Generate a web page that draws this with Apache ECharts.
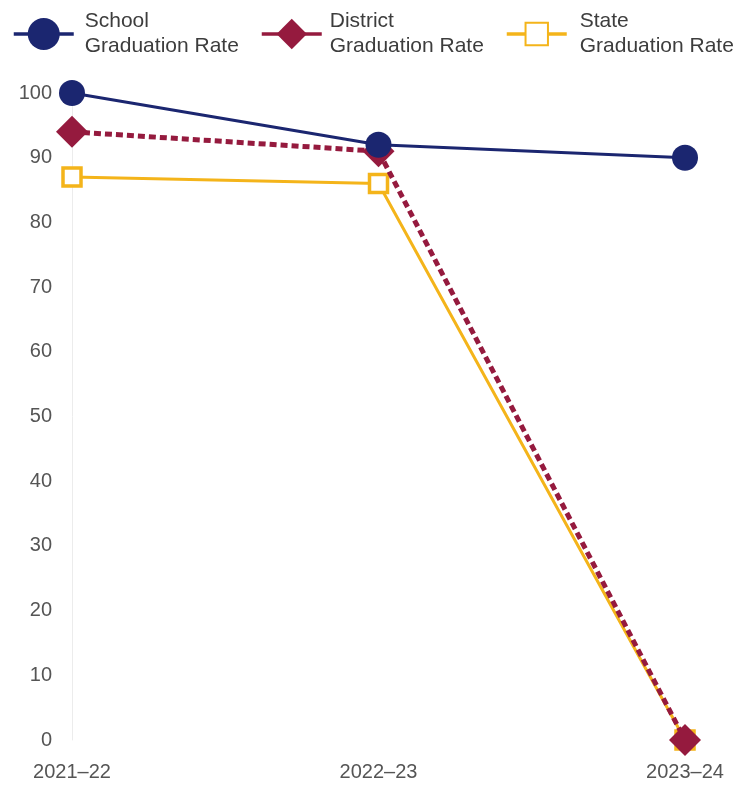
<!DOCTYPE html>
<html>
<head>
<meta charset="utf-8">
<script src="https://cdn.jsdelivr.net/npm/echarts@6/dist/echarts.min.js"></script>
<style>
  html, body { margin: 0; padding: 0; background: #ffffff; }
  #chart { width: 735px; height: 785px; }
</style>
</head>
<body>
<div id="chart"></div>
<script>
// School years on the horizontal axis
const years = ['2021\u201322', '2022\u201323', '2023\u201324'];

// Graduation rates (%)
const schoolRate = [100, 92, 90];
const districtRate = [94, 91, 0];
const stateRate = [87, 86, 0];

// Series names as shown in the legend
const schoolName = 'School\nGraduation Rate';
const districtName = 'District\nGraduation Rate';
const stateName = 'State\nGraduation Rate';

const navy = '#1b2670';
const crimson = '#951a3e';
const gold = '#f4b41a';

const legendText = {
  fontFamily: 'Arial, "Liberation Sans", sans-serif',
  fontSize: 21,
  lineHeight: 25,
  color: '#3d3d3d'
};

// One legend block per series so each can sit at its own spot;
// the icon height sets the size of the marker drawn in it
function makeLegend(name, left, pad, iconHeight) {
  return {
    data: [name],
    left: left,
    top: 4,
    itemWidth: 60,
    itemHeight: iconHeight,
    itemGap: 0,
    selectedMode: false,
    lineStyle: { type: 'solid', width: 3.5 },
    textStyle: Object.assign({ padding: [0, 0, 0, pad] }, legendText)
  };
}

const chart = echarts.init(document.getElementById('chart'), null, { renderer: 'canvas' });

chart.setOption({
  animation: false,
  backgroundColor: '#ffffff',
  legend: [
    makeLegend(schoolName, 7, 6, 40),
    makeLegend(districtName, 255, 3, 38),
    makeLegend(stateName, 500, 8, 28)
  ],
  grid: { left: 72, right: 50, top: 93, bottom: 45, containLabel: false },
  xAxis: {
    type: 'category',
    data: years,
    boundaryGap: false,
    axisLine: { show: false },
    axisTick: { show: false },
    splitLine: { show: false },
    axisLabel: {
      margin: 22,
      fontFamily: 'Arial, "Liberation Sans", sans-serif',
      fontSize: 20,
      color: '#555'
    }
  },
  yAxis: {
    type: 'value',
    min: 0,
    max: 100,
    interval: 10,
    axisLine: { show: true, lineStyle: { color: '#ececec', width: 1 } },
    axisTick: { show: false },
    splitLine: { show: false },
    axisLabel: {
      margin: 20,
      fontFamily: 'Arial, "Liberation Sans", sans-serif',
      fontSize: 20,
      color: '#555'
    }
  },
  series: [
    {
      name: stateName,
      type: 'line',
      data: stateRate,
      symbol: 'rect',
      symbolSize: 18,
      itemStyle: { color: '#ffffff', borderColor: gold, borderWidth: 3.5 },
      lineStyle: { color: gold, width: 3 },
      z: 2
    },
    {
      name: districtName,
      type: 'line',
      data: districtRate,
      symbol: 'diamond',
      symbolSize: 32,
      itemStyle: { color: crimson },
      lineStyle: { color: crimson, width: 5, type: [7, 4] },
      z: 3
    },
    {
      name: schoolName,
      type: 'line',
      data: schoolRate,
      symbol: 'circle',
      symbolSize: 26,
      itemStyle: { color: navy },
      lineStyle: { color: navy, width: 3 },
      z: 4
    }
  ]
});
</script>
</body>
</html>
